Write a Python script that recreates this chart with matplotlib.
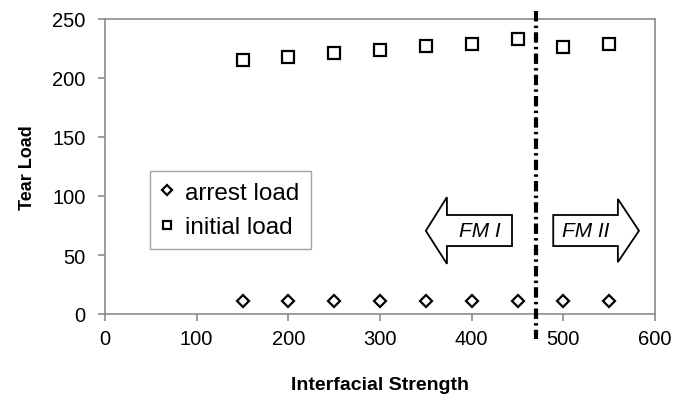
import matplotlib.pyplot as plt
from matplotlib.patches import Polygon

plt.rcParams["font.family"] = ["Liberation Sans", "DejaVu Sans"]

strength = [150, 200, 250, 300, 350, 400, 450, 500, 550]
arrest_load = [11, 11, 11, 11, 11, 11, 11, 11, 11]
initial_load = [215, 218, 221, 224, 227, 229, 233, 226, 229]
boundary = 470

GRAY = "#8c8c8c"

fig = plt.figure(figsize=(6.75, 4.02), dpi=100)
ax = fig.add_axes([105 / 675, 1 - 315 / 402, 550 / 675, 295 / 402])

ax.plot(strength, arrest_load, linestyle="none", marker="D", markersize=6.5,
        markerfacecolor="white", markeredgecolor="black", markeredgewidth=1.6,
        label="arrest load")
ax.plot(strength, initial_load, linestyle="none", marker="s", markersize=8,
        markerfacecolor="white", markeredgecolor="black", markeredgewidth=1.6,
        label="initial load")

ax.plot([boundary, boundary], [257, -21], color="black", linewidth=3,
        dashes=[2.5, 1, 0.6, 1], clip_on=False, zorder=5)

# FM I arrow pointing left, FM II pointing right
fm1 = [(444, 83.9), (373, 83.9), (373, 99), (350, 70.5), (373, 42.5),
       (373, 57.6), (444, 57.6)]
fm2 = [(489, 83.9), (559.5, 83.9), (559.5, 97.5), (582.5, 70.5),
       (559.5, 44), (559.5, 57.6), (489, 57.6)]
for pts in (fm1, fm2):
    ax.add_patch(Polygon(pts, closed=True, facecolor="white",
                         edgecolor="black", linewidth=1.3, zorder=4))
ax.text(409, 70.5, "FM I", style="italic", fontsize=15, ha="center",
        va="center", zorder=6)
ax.text(524, 70.5, "FM II", style="italic", fontsize=15, ha="center",
        va="center", zorder=6)

ax.set_xlim(0, 600)
ax.set_ylim(0, 250)
ax.set_xticks(range(0, 601, 100))
ax.set_yticks(range(0, 251, 50))
for side in ("top", "right", "bottom", "left"):
    ax.spines[side].set_color(GRAY)
    ax.spines[side].set_linewidth(1.2)
ax.tick_params(colors=GRAY, labelcolor="black", labelsize=14.5, length=5,
               width=1.2, direction="out")
ax.tick_params(axis="x", pad=6)
ax.tick_params(axis="y", pad=9)

ax.set_xlabel("Interfacial Strength", fontsize=14, fontweight="bold",
              labelpad=20)
ax.set_ylabel("Tear Load", fontsize=13, fontweight="bold", labelpad=12)

leg = ax.legend(loc="lower left", bbox_to_anchor=(0.082, 0.22), fontsize=17.5,
                frameon=True, fancybox=False, handlelength=0.5,
                handletextpad=0.5, borderpad=0.45, labelspacing=0.5,
                markerscale=0.8, borderaxespad=0)
leg.get_frame().set_edgecolor(GRAY)
leg.get_frame().set_linewidth(1.0)

fig.savefig("out.png", dpi=100)
